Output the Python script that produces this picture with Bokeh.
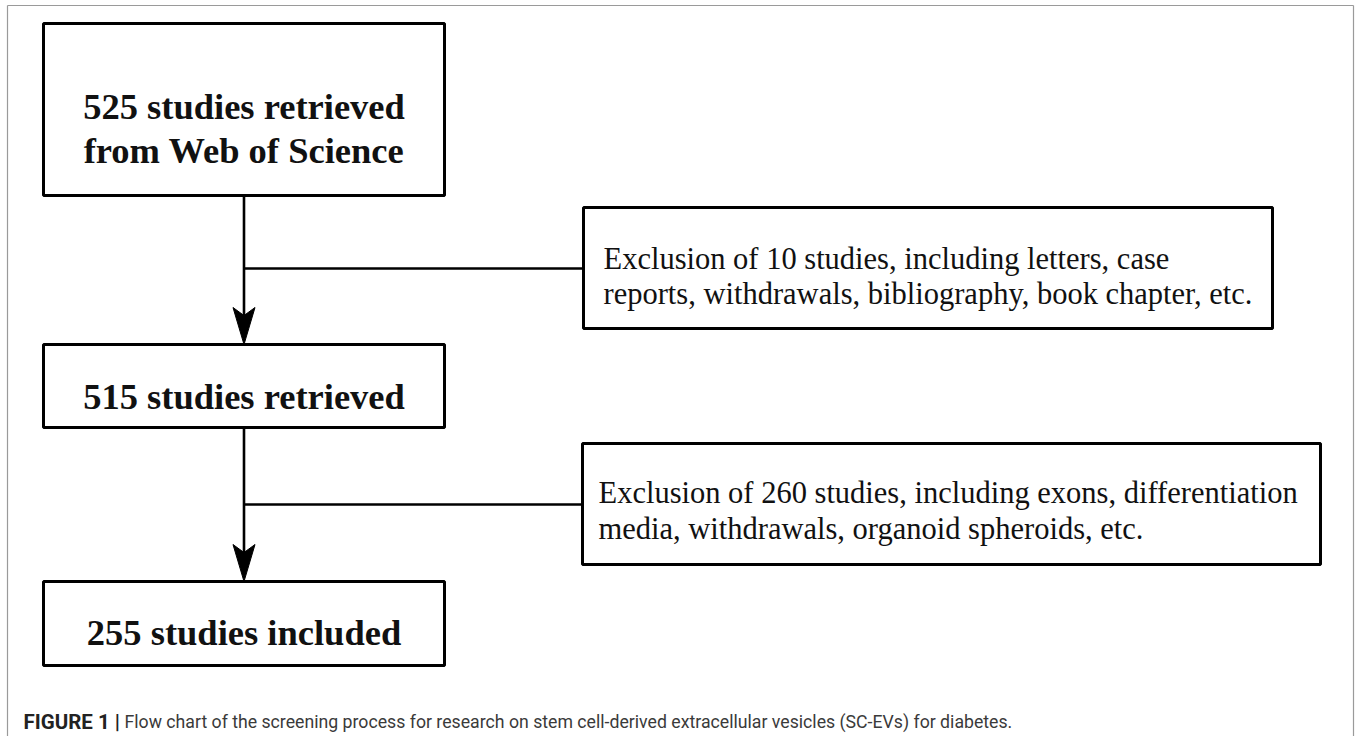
from bokeh.plotting import figure
from bokeh.models import Range1d
from bokeh.core.properties import value
from bokeh.embed import file_html
from bokeh.resources import INLINE

# ---- data ----
stage_counts = [525, 515, 255]
stage_words = ["retrieved", "retrieved", "included"]
source = "Web of Science"
excluded_counts = [10, 260]
excluded_reasons = [
    ["letters, case", "reports, withdrawals, bibliography, book chapter, etc."],
    ["exons, differentiation", "media, withdrawals, organoid spheroids, etc."],
]
caption_bold = "FIGURE 1 |"
caption_text = ("Flow chart of the screening process for research on stem cell-derived "
                "extracellular vesicles (SC-EVs) for diabetes.")

# ---- layout (pixel space of the figure, y downwards) ----
W, H = 1360, 736
main_boxes = [dict(l=43, r=444, t=23, b=195), dict(l=43, r=444, t=344, b=427), dict(l=43, r=444, t=581, b=665)]
side_boxes = [dict(l=583, r=1272, t=207, b=328), dict(l=582, r=1320, t=443, b=564)]
spine_x = 243.5
branch_y = [268, 504]
main_baselines = [[106, 150], [396], [632]]
side_text_x = [603, 598]
side_baselines = [[258, 293], [492, 528]]
frame = dict(l=7, r=1353, t=5)

p = figure(width=W, height=H, x_range=Range1d(0, W), y_range=Range1d(H, 0),
           output_backend="svg", toolbar_location=None, min_border=0)
p.axis.visible = False
p.grid.visible = False
p.outline_line_color = None
p.background_fill_color = "white"
p.border_fill_color = "white"

# outer frame (left, top, right)
p.segment(x0=[frame["l"], frame["l"], frame["r"]], y0=[H + 5, frame["t"], frame["t"]],
          x1=[frame["l"], frame["r"], frame["r"]], y1=[frame["t"], frame["t"], H + 5],
          line_color="#9a9a9a", line_width=1.2)

# connectors
p.segment(x0=[spine_x, spine_x], y0=[main_boxes[0]["b"], main_boxes[1]["b"]],
          x1=[spine_x, spine_x], y1=[main_boxes[1]["t"] - 20, main_boxes[2]["t"] - 20],
          line_color="black", line_width=2.6)
p.segment(x0=[spine_x, spine_x], y0=branch_y,
          x1=[side_boxes[0]["l"], side_boxes[1]["l"]], y1=branch_y,
          line_color="black", line_width=2.6)

# arrow heads
xs, ys = [], []
for bx in main_boxes[1:]:
    tip = bx["t"]
    xs.append([spine_x, spine_x - 11, spine_x, spine_x + 11])
    ys.append([tip, tip - 37, tip - 29, tip - 37])
p.patches(xs, ys, fill_color="black", line_color="black", line_width=1)

# boxes
allb = main_boxes + side_boxes
p.quad(left=[b["l"] for b in allb], right=[b["r"] for b in allb],
       top=[b["t"] for b in allb], bottom=[b["b"] for b in allb],
       fill_color="white", line_color="black", line_width=3)

# main box texts
main_lines = [
    [f"{stage_counts[0]} studies {stage_words[0]}", f"from {source}"],
    [f"{stage_counts[1]} studies {stage_words[1]}"],
    [f"{stage_counts[2]} studies {stage_words[2]}"],
]
tx, ty, tt = [], [], []
for b, lines, bls in zip(main_boxes, main_lines, main_baselines):
    for ln, bl in zip(lines, bls):
        tx.append((b["l"] + b["r"]) / 2)
        ty.append(bl)
        tt.append(ln)
p.text(x=tx, y=ty, text=tt, text_font=value("Liberation Serif"), text_font_style="bold",
       text_font_size="36.5px", text_align="center", text_baseline="alphabetic", text_color="#111111")

# side box texts
sx, sy, st = [], [], []
for i, n in enumerate(excluded_counts):
    lines = [f"Exclusion of {n} studies, including {excluded_reasons[i][0]}", excluded_reasons[i][1]]
    for ln, bl in zip(lines, side_baselines[i]):
        sx.append(side_text_x[i])
        sy.append(bl)
        st.append(ln)
p.text(x=sx, y=sy, text=st, text_font=value("Liberation Serif"), text_font_size="30.5px",
       text_align="left", text_baseline="alphabetic", text_color="#111111")

# caption
p.text(x=[23], y=[721], text=[caption_bold], text_font=value("Roboto"), text_font_style="bold",
       text_font_size="20.5px", text_baseline="alphabetic", text_color="#222222")
p.text(x=[124], y=[721], text=[caption_text], text_font=value("Roboto"),
       text_font_size="17.7px", text_baseline="alphabetic", text_color="#3a3a3a")

open("out.html", "w").write(file_html(p, INLINE))
